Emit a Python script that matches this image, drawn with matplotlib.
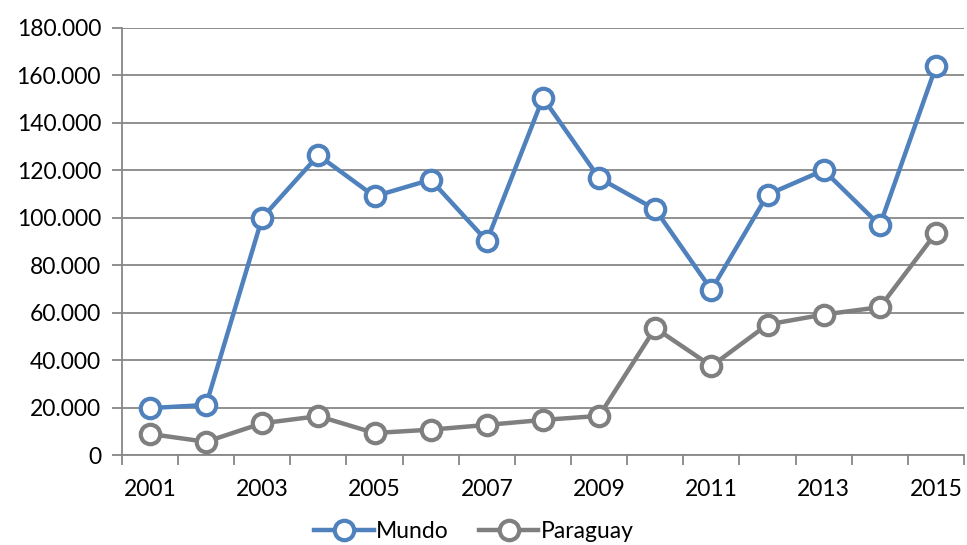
import matplotlib.pyplot as plt
import numpy as np
from matplotlib.ticker import FuncFormatter

plt.rcParams['font.family'] = ['Lato', 'DejaVu Sans']

years = list(range(2001, 2016))
mundo = [19.8, 21.1, 100.0, 126.3, 109.0, 116.0, 90.2, 150.5, 116.7, 103.5, 69.6, 109.7, 120.0, 96.8, 163.8]
paraguay = [8.9, 5.6, 13.4, 16.4, 9.3, 10.7, 12.7, 14.8, 16.5, 53.5, 37.5, 55.0, 59.2, 62.3, 93.6]

blue = '#4F81BD'
gray = '#7F7F7F'
grid = '#878787'

fig = plt.figure(figsize=(9.67, 5.45), dpi=100)
ax = fig.add_axes([0.126, 0.165, 0.871, 0.784])

x = np.arange(len(years))
for vals, col, name in [(mundo, blue, 'Mundo'), (paraguay, gray, 'Paraguay')]:
    ax.plot(x, vals, color=col, lw=3.2, marker='o', markersize=14,
            markerfacecolor='white', markeredgecolor=col, markeredgewidth=3,
            label=name, zorder=3)

ax.set_xlim(-0.5, len(years) - 0.5)
ax.set_ylim(0, 180)
ax.set_yticks(np.arange(0, 181, 20))
ax.yaxis.set_major_formatter(FuncFormatter(lambda v, p: '0' if v == 0 else f'{int(v)}.000'))
ax.grid(axis='y', color=grid, lw=1.3)
ax.set_axisbelow(True)

# category boundary ticks, labels on every other year
ax.set_xticks(np.arange(-0.5, len(years), 1.0))
ax.set_xticklabels([])
ax.set_xticks(x[::2], minor=True)
ax.set_xticklabels([str(y) for y in years[::2]], minor=True)
ax.tick_params(axis='x', which='major', length=7, color=grid, width=1.3)
ax.tick_params(axis='x', which='minor', length=0, pad=17, labelsize=16.5)
ax.tick_params(axis='y', length=7, color=grid, width=1.3, pad=8, labelsize=16.5)

for s in ['top', 'right']:
    ax.spines[s].set_visible(False)
for s in ['left', 'bottom']:
    ax.spines[s].set_color(grid)
    ax.spines[s].set_linewidth(1.3)

ax.legend(loc='center', bbox_to_anchor=(0.418, -0.178), ncol=2, frameon=False,
          fontsize=16.5, handlelength=2.6, columnspacing=1.3, handletextpad=0.1)

fig.savefig('out.png', dpi=100)
